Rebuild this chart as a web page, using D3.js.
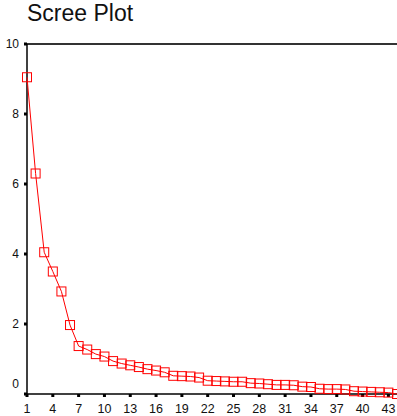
<!DOCTYPE html>
<html>
<head>
<meta charset="utf-8">
<script src="https://cdn.jsdelivr.net/npm/d3@7"></script>
<style>
  body { margin: 0; background: #fff; }
  text { font-family: "Liberation Sans", Arial, sans-serif; }
</style>
</head>
<body>
<script>
// component numbers and their eigenvalues
const components = d3.range(1, 45);
const eigenvalues = [
  9.05, 6.3, 4.05, 3.5, 2.93, 1.97, 1.37, 1.27, 1.14, 1.07,
  0.94, 0.87, 0.82, 0.77, 0.71, 0.67, 0.62, 0.52, 0.51, 0.5,
  0.47, 0.38, 0.37, 0.36, 0.35, 0.35, 0.31, 0.3, 0.28, 0.26,
  0.26, 0.25, 0.21, 0.2, 0.15, 0.14, 0.14, 0.13, 0.08, 0.07,
  0.06, 0.05, 0.04, 0.0
];
const xTicks = [1, 4, 7, 10, 13, 16, 19, 22, 25, 28, 31, 34, 37, 40, 43];
const yTicks = [0, 2, 4, 6, 8, 10];

const width = 397, height = 416;

const svg = d3.select("body").append("svg")
  .attr("width", width)
  .attr("height", height);

const x = d3.scaleLinear().domain([1, 44]).range([27, 397]);
const y = d3.scaleLinear().domain([0, 10]).range([394, 44]);

// title
svg.append("text")
  .attr("x", 27)
  .attr("y", 21)
  .attr("font-size", 23)
  .attr("fill", "#111")
  .text("Scree Plot");

// top frame line
svg.append("line")
  .attr("x1", x(1)).attr("x2", width)
  .attr("y1", y(10)).attr("y2", y(10))
  .attr("stroke", "#333")
  .attr("stroke-width", 2);

// y axis
const yAxis = svg.append("g");
yAxis.append("line")
  .attr("x1", x(1)).attr("x2", x(1))
  .attr("y1", y(10)).attr("y2", y(0))
  .attr("stroke", "#000")
  .attr("stroke-width", 1.5);
yAxis.selectAll("rect")
  .data(yTicks)
  .join("rect")
  .attr("x", x(1) - 3)
  .attr("y", d => y(d) - 1.5)
  .attr("width", 3)
  .attr("height", 3)
  .attr("fill", "#000");
yAxis.selectAll("text")
  .data(yTicks)
  .join("text")
  .attr("x", 19)
  .attr("y", d => d === 0 ? y(d) - 10 : y(d))
  .attr("dy", "0.35em")
  .attr("text-anchor", "end")
  .attr("font-size", 12)
  .attr("fill", "#111")
  .text(d => d);

// x axis
const xAxis = svg.append("g");
xAxis.append("line")
  .attr("x1", x(1)).attr("x2", width)
  .attr("y1", y(0)).attr("y2", y(0))
  .attr("stroke", "#000")
  .attr("stroke-width", 1.5);
xAxis.selectAll("rect")
  .data(xTicks)
  .join("rect")
  .attr("x", d => x(d) - 1.5)
  .attr("y", y(0))
  .attr("width", 3)
  .attr("height", 3)
  .attr("fill", "#000");
xAxis.selectAll("text")
  .data(xTicks)
  .join("text")
  .attr("x", d => x(d))
  .attr("y", 413)
  .attr("text-anchor", "middle")
  .attr("font-size", 12.5)
  .attr("fill", "#111")
  .text(d => d);

// line + square markers
const pts = components.map((c, i) => [c, eigenvalues[i]]);

svg.append("path")
  .datum(pts)
  .attr("fill", "none")
  .attr("stroke", "#ff0000")
  .attr("stroke-width", 1)
  .attr("d", d3.line().x(d => x(d[0])).y(d => y(d[1])));

svg.append("g")
  .selectAll("rect")
  .data(pts)
  .join("rect")
  .attr("x", d => x(d[0]) - 4.5)
  .attr("y", d => y(d[1]) - 4.5)
  .attr("width", 9)
  .attr("height", 9)
  .attr("fill", "none")
  .attr("stroke", "#ff0000")
  .attr("stroke-width", 1);
</script>
</body>
</html>
